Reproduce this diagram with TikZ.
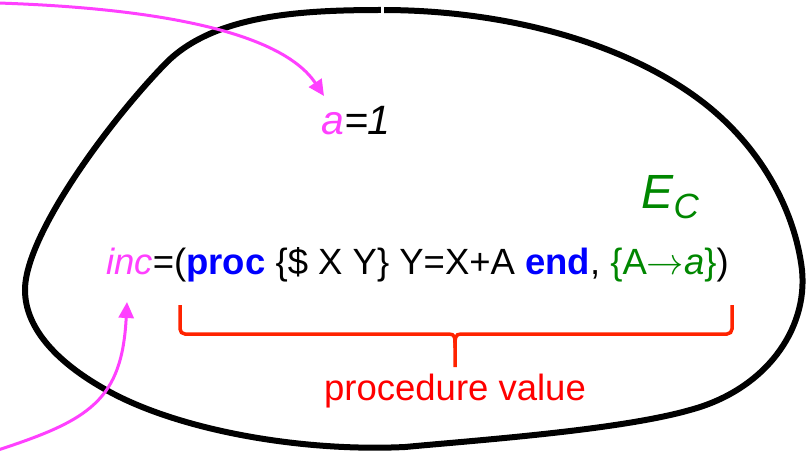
\documentclass[tikz,border=0pt]{standalone}
\usepackage{fontspec}
\setmainfont{Liberation Sans}
\usetikzlibrary{arrows.meta}
\definecolor{mag}{RGB}{255,64,255}
\definecolor{kwblue}{RGB}{0,0,255}
\definecolor{envgreen}{RGB}{0,135,0}
\definecolor{brred}{RGB}{255,35,0}
\definecolor{txred}{RGB}{255,0,0}
\tikzset{
  blob/.style={line width=6pt, black},
  ptr/.style={mag, line width=3pt, -{Triangle[length=16pt,width=15pt]}},
  bracepath/.style={brred, line width=3.5pt, rounded corners=5pt},
  big/.style={inner sep=0pt, font=\fontsize{36.5}{44}\selectfont},
}
\begin{document}
\begin{tikzpicture}[x=1pt,y=-1pt]
\useasboundingbox (0,0) rectangle (810,454);
% environment contour
\draw[blob] (382,10) .. controls (500,10) and (620,40) .. (700,100)
  .. controls (760,145) and (795,210) .. (802,270)
  .. controls (808,330) and (765,390) .. (690,410)
  .. controls (620,430) and (480,440) .. (405,447)
  .. controls (300,452) and (180,430) .. (110,392)
  .. controls (60,365) and (25,330) .. (25,290)
  .. controls (25,235) and (110,120) .. (167,62)
  .. controls (215,15) and (300,10) .. (382,10) -- cycle;
\fill[white] (381,2) rectangle (383.5,18);
% texts
\node[inner sep=0pt, anchor=base west, font=\fontsize{41}{46}\selectfont] (aval) at (321,135) {\textcolor{mag}{\textit{a}}\textit{=1}};
\node[inner sep=0pt, anchor=base west, font=\fontsize{48}{56}\selectfont, text=envgreen] (ec) at (641,208)
  {\textit{E}\raisebox{-10pt}{\fontsize{35}{40}\selectfont\textit{C}}};
\node[big, anchor=base west] (code) at (106,274)
  {\textcolor{mag}{\textit{inc}}=(\textcolor{kwblue}{\textbf{proc}} \{\$ X Y\} Y=X+A \textcolor{kwblue}{\textbf{end}}, \textcolor{envgreen}{\{A\scalebox{1.5}{$\rightarrow$}\textit{a}\}})};
\node[big, anchor=base, text=txred] (pv) at (455,400) {procedure value};
% brace
\coordinate (bl) at (180,305);
\coordinate (br) at (732,305);
\coordinate (bm) at (455,367);
\draw[bracepath] (bl) -- (180,334) -- (444,334) .. controls (455,334) and (455,338) .. (455,348) -- (bm);
\draw[bracepath] (br) -- (732,334) -- (466,334) .. controls (455,334) and (455,338) .. (455,348);
% pointers
\coordinate (s1) at (-2,3);
\coordinate (t1) at (324,96);
\coordinate (s2) at (-2,450);
\coordinate (t2) at (127,302);
\draw[ptr] (s1) .. controls (150,8) and (280,30) .. (t1);
\draw[ptr] (s2) .. controls (90,420) and (122,400) .. (t2);
\end{tikzpicture}
\end{document}
